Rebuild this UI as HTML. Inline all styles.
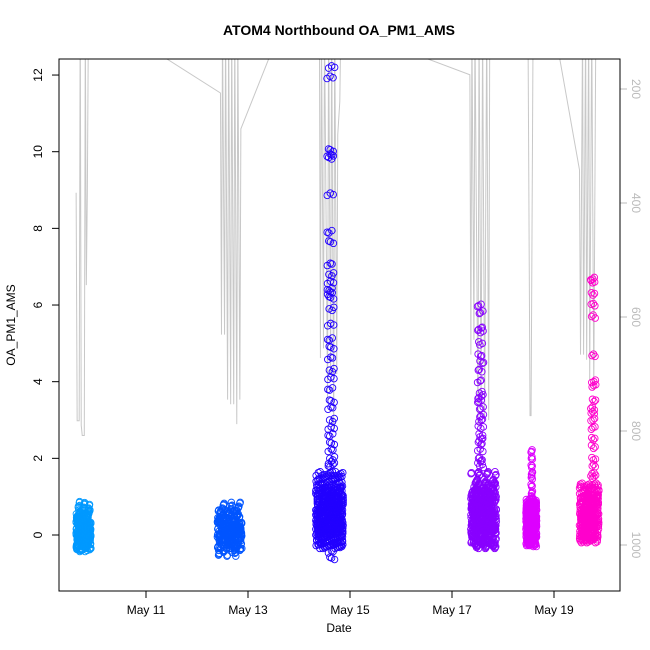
<!DOCTYPE html>
<html><head><meta charset="utf-8"><style>
body{margin:0;background:#fff}
svg{display:block;font-family:"Liberation Sans",sans-serif}
</style></head><body>
<svg id="chart" width="650" height="650">
<rect width="650" height="650" fill="#fff"/>
<defs><clipPath id="pc"><rect x="59" y="59" width="561" height="532"/></clipPath></defs>
<g id="alt" clip-path="url(#pc)"></g>
<g id="pts" clip-path="url(#pc)"></g>
<g id="axes"></g>
<rect x="59" y="59" width="561" height="532" fill="none" stroke="#000"/>
<text x="339" y="35" text-anchor="middle" font-weight="bold" font-size="14">ATOM4 Northbound OA_PM1_AMS</text>
<text x="339" y="632" text-anchor="middle" font-size="12">Date</text>
<text transform="translate(15,325) rotate(-90)" text-anchor="middle" font-size="12">OA_PM1_AMS</text>
</svg>
<script>
const xTicks=[11,13,15,17,19];
const xTickLabels=["May 11","May 13","May 15","May 17","May 19"];
const yTicks=[0,2,4,6,8,10,12];
const rTicks=[200,400,600,800,1000];
const clusterColors=["#0099ff","#0055ff","#2200ff","#8800ff","#dd00ff","#ff00cc"];
const clusterStart=[9.63,12.4,14.33,17.37,18.45,19.5];
const clusterEnd=[9.92,12.88,14.87,17.87,18.66,19.88];
const base1=[0.1,-0.2,0.3,0.0,-0.3,0.2,0.5,-0.1,0.4,0.1,-0.35,0.25,0.0,0.6,-0.2,0.15,0.35,-0.05,0.45,0.05,-0.25,0.3,0.7,0.0,-0.15,0.2,0.55,-0.3,0.1,0.4,0.82,-0.1,0.25,0.05,-0.38,0.3,0.15,0.5,-0.2,0.0];
const base2=[0.0,-0.2,0.3,0.1,-0.3,0.2,0.4,-0.1,0.6,0.05,-0.5,0.25,0.0,0.8,-0.25,0.15,0.35,-0.05,0.45,0.05,-0.3,0.3,0.55,0.0,-0.15,0.2,0.7,-0.35,0.1,0.4,0.5,-0.1,0.25,0.05,-0.4,0.3,0.15,0.6,-0.2,0.0];
const base3=[0.2,-0.2,0.5,0.9,0.1,1.2,0.4,-0.1,0.7,1.0,0.3,1.4,0.0,0.6,1.1,0.2,0.8,-0.3,0.5,1.3,0.3,0.9,0.1,1.5,0.6,-0.15,0.4,1.0,0.2,0.7,1.2,0.0,0.5,0.8,-0.25,0.3,1.1,0.6,0.1,0.9,1.6,0.4];
const out3=[11.95,12.2,10.05,9.9,9.85,8.9,7.9,7.65,7.05,6.8,6.6,6.4,6.2,6.3,5.9,5.5,5.1,4.9,4.6,4.3,4.1,3.8,3.5,3.3,3.0,2.8,2.6,2.4,2.2,2.0,1.9,1.8,-0.6,-0.45];
const base4=[0.2,-0.2,0.5,0.9,0.1,1.2,0.4,-0.1,0.7,1.0,0.3,1.4,0.0,0.6,1.1,0.2,0.8,-0.3,0.5,1.3,0.3,0.9,0.1,1.6,0.6,-0.15,0.4,1.0,0.2,0.7,1.2,0.0,0.5,0.8,-0.25,0.3,1.1,0.6,0.1,0.9];
const out4=[6.0,5.8,5.4,5.3,5.0,4.7,4.5,4.3,4.0,3.7,3.5,3.3,3.0,2.8,2.6,2.4,2.2,2.0,1.9,1.8,3.6,3.1,2.5];
const base5=[0.2,-0.2,0.5,0.8,0.1,0.4,-0.1,0.7,0.3,0.0,0.6,0.2,0.9,-0.25,0.5,0.3,0.1,0.7,0.4,-0.1,0.6,0.0,0.8,0.3];
const out5=[2.2,2.0,1.8,1.6,1.5,1.3,1.1,1.0];
const base6=[0.3,0.0,0.6,1.0,0.2,1.2,0.5,-0.1,0.8,0.4,1.1,0.1,0.7,0.9,0.3,-0.15,0.6,1.3,0.2,0.5,0.8,0.0,1.0,0.4];
const out6=[6.7,6.6,6.3,6.0,5.7,4.7,4.0,3.9,3.5,3.3,3.2,3.0,2.8,2.5,2.3,2.0,1.8,1.6,1.5];
const outStart=[0,0,14.55,17.5,18.55,19.72];
const outEnd=[0,0,14.7,17.62,18.58,19.82];
const altT=[9.63,9.65,9.69,9.71,9.73,9.75,9.79,9.81,9.83,9.85,9.87,10.05,12.46,12.48,12.5,12.54,12.56,12.6,12.62,12.66,12.68,12.72,12.74,12.78,12.8,12.84,12.86,13.66,14.4,14.42,14.44,14.48,14.5,14.56,14.58,14.62,14.64,14.68,14.7,14.74,14.76,14.8,14.82,17.35,17.37,17.39,17.43,17.45,17.51,17.53,17.57,17.6,17.64,17.68,17.72,17.74,18.49,18.53,18.55,18.59,19.0,19.5,19.52,19.56,19.58,19.62,19.64,19.68,19.7,19.74,19.78,19.82];
const altP=[382,782,782,43,790,808,808,90,544,380,90,70,207,631,90,631,90,745,90,753,90,753,90,788,90,745,270,90,90,672,90,655,90,745,90,700,90,800,90,700,280,222,90,175,666,90,640,90,790,90,745,90,781,90,781,90,90,773,773,90,90,342,666,90,666,90,675,90,710,90,727,90];
function xs(d){return 146+(d-11)*51;}
function ys(v){return 535-v*38.33;}
function yr(p){return 89+(p-200)*0.57;}
const NS="http://www.w3.org/2000/svg";
const ax=document.getElementById('axes');
function mk(tag,attrs,parent){const e=document.createElementNS(NS,tag);for(const k in attrs)e.setAttribute(k,attrs[k]);parent.appendChild(e);return e;}
xTicks.forEach((t,i)=>{
 const l=mk('line',{x1:xs(t),x2:xs(t),y1:591,y2:598,stroke:'#000'},ax);
 
 
 const tx=mk('text',{x:xs(t),y:614,'text-anchor':'middle','font-size':12},ax);tx.textContent=xTickLabels[i];
 
 
});
yTicks.forEach(v=>{
 const l=mk('line',{x1:52,x2:59,y1:ys(v),y2:ys(v),stroke:'#000'},ax);
 
 
 const tx=mk('text',{transform:`translate(42,${ys(v)}) rotate(-90)`,'text-anchor':'middle','font-size':12},ax);tx.textContent=v;
 
 
});
rTicks.forEach(p=>{
 const l=mk('line',{x1:620,x2:627,y1:yr(p),y2:yr(p),stroke:'#bbb'},ax);
 
 
 const tx=mk('text',{transform:`translate(632,${yr(p)}) rotate(90)`,'text-anchor':'middle','font-size':12,fill:'#bbb'},ax);tx.textContent=p;
 
 
});
const alt=document.getElementById('alt');
const pl=mk('polyline',{points:altT.map((t,i)=>xs(t)+','+yr(altP[i])).join(' '),fill:'none',stroke:'#c8c8c8','stroke-width':1},alt);


const pts=document.getElementById('pts');
const bases=[base1,base2,base3,base4,base5,base6];
const outs=[[],[],out3,out4,out5,out6];
function drawSet(vals,t0,t1,col,reps,jit){
 for(let r=0;r<reps;r++){
  vals.forEach((v,i)=>{
   const idx=(i*7+r*13)%vals.length;
   const frac=(idx+r/reps)/vals.length;
   const dv=jit*(((i+r*3)%5)-2)/2;
   const c=mk('circle',{cx:xs(t0+(t1-t0)*frac),cy:ys(v+dv),r:3.3,fill:'none',stroke:col,'stroke-width':0.9},pts);
   
   
  });
 }
}
bases.forEach((b,k)=>{
 drawSet(b,clusterStart[k],clusterEnd[k],clusterColors[k],k>=2?14:8,0.05);
 if(outs[k].length)drawSet(outs[k],outStart[k],outEnd[k],clusterColors[k],3,0.04);
});
</script>
</body></html>
